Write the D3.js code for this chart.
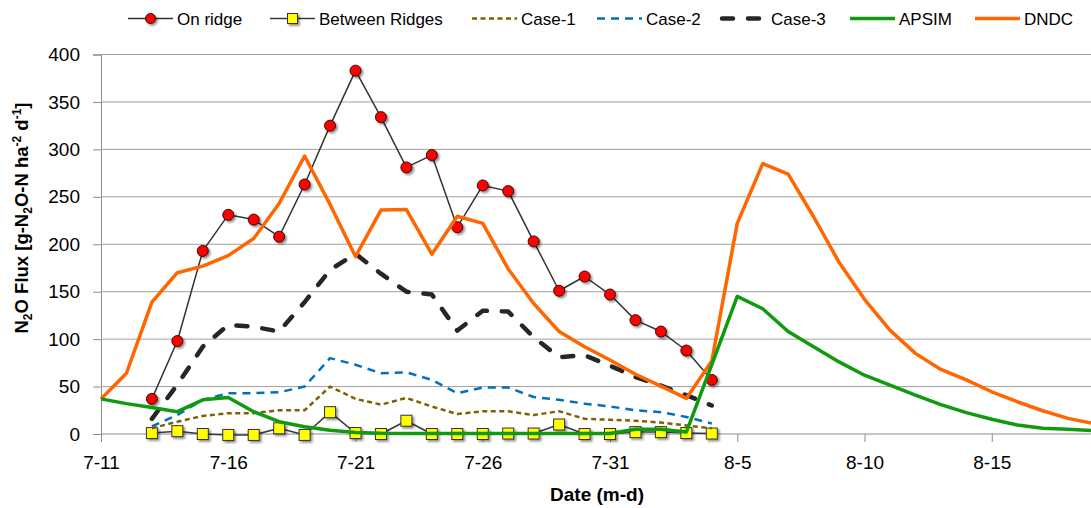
<!DOCTYPE html>
<html>
<head>
<meta charset="utf-8">
<script src="https://cdn.jsdelivr.net/npm/d3@7"></script>
<style>
  html, body { margin: 0; padding: 0; background: #fff; }
  svg { display: block; font-family: "Liberation Sans", Arial, sans-serif; }
</style>
</head>
<body>
<svg id="chart" width="1091" height="508"></svg>
<script>
// Daily dates on the category axis (month-day)
const dates = [
  "7-11","7-12","7-13","7-14","7-15","7-16","7-17","7-18","7-19","7-20",
  "7-21","7-22","7-23","7-24","7-25","7-26","7-27","7-28","7-29","7-30",
  "7-31","8-1","8-2","8-3","8-4","8-5","8-6","8-7","8-8","8-9",
  "8-10","8-11","8-12","8-13","8-14","8-15","8-16","8-17","8-18","8-19"
];
const xTickLabels = ["7-11","7-16","7-21","7-26","7-31","8-5","8-10","8-15"];
const yTicks = [0, 50, 100, 150, 200, 250, 300, 350, 400];

// Measured fluxes, 7-13 to 8-4 (g N2O-N ha-2 d-1)
const onRidge = [null, null,
  37, 98, 193, 231, 226, 208, 263, 325, 383, 334, 281, 294, 218, 262, 256, 203,
  151, 166, 147, 120, 108, 88, 57];
const betweenRidges = [null, null,
  1, 3, 0, -1, -1, 6, -1, 23, 1, 0, 14, 0, 0, 0, 0.5, 0.5,
  10, 0, 0, 2, 2, 1, 0.5];
const case1 = [null, null,
  6, 13, 19, 22, 22, 25, 25, 50, 37, 31, 38, 29, 21, 24, 24, 20,
  24, 16, 15, 14, 12, 9, 6];
const case2 = [null, null,
  8, 20, 36, 43, 43, 44, 50, 80, 73, 64, 65, 57, 43, 49, 49, 39,
  36, 32, 29, 25, 23, 18, 11];
const case3 = [null, null,
  16, 52, 92, 115, 113, 108, 139, 173, 190, 169, 150, 147, 109, 130, 129, 102,
  81, 83, 72, 60, 51, 41, 30];

// Simulated fluxes, 7-11 to 8-19
const apsim = [
  37, 32, 28, 23.5, 36, 38.5, 23.5, 13, 7.7, 4, 1.7, 0.7, 0.5, 0.5, 0.5, 0.5,
  0.5, 0.5, 0.5, 0.5, 0.5, 5, 5, 2, 73, 145, 132, 108, 92, 76, 62, 51.5,
  41, 31, 22.5, 15.5, 9.5, 6, 5, 3.5];
const dndc = [
  37, 64, 139, 170, 177, 188, 206, 243, 293, 242, 187, 236, 236.5, 189.5, 229.5, 222,
  174, 137.5, 108, 92, 78, 63, 50.5, 37.5, 77, 222, 285, 274, 229, 181, 142, 109.5,
  85, 68, 57, 44.5, 34, 24.5, 16.5, 11];

const svg = d3.select("#chart");
const W = 1091, H = 508;
const plot = { left: 101, top: 54.5, bottom: 434, dayWidth: 25.45 };

const x = d3.scalePoint()
  .domain(dates)
  .range([plot.left, plot.left + plot.dayWidth * (dates.length - 1)]);
const y = d3.scaleLinear().domain([0, 400]).range([plot.bottom, plot.top]);

const gridColor = "#a0a0a0";
const axisColor = "#8c8c8c";

// Marker drop shadow
const defs = svg.append("defs");
const f = defs.append("filter").attr("id", "shadow")
  .attr("x", "-50%").attr("y", "-50%").attr("width", "200%").attr("height", "200%");
f.append("feDropShadow").attr("dx", 1.8).attr("dy", 1.8)
  .attr("stdDeviation", 1.2).attr("flood-color", "#000").attr("flood-opacity", 0.45);

// Value axis and horizontal gridlines
const yAxis = d3.axisLeft(y).tickValues(yTicks).tickSize(8).tickPadding(13);
const gy = svg.append("g").attr("transform", `translate(${plot.left},0)`).call(yAxis);
gy.select(".domain").attr("stroke", axisColor);
gy.selectAll(".tick line").attr("stroke", axisColor);
gy.selectAll(".tick text")
  .attr("font-size", 19).attr("fill", "#000")
  .attr("font-family", "'Liberation Sans', Arial, sans-serif");
svg.append("g").selectAll("line.grid")
  .data(yTicks.filter(v => v > 0))
  .join("line")
  .attr("x1", plot.left).attr("x2", W)
  .attr("y1", d => y(d)).attr("y2", d => y(d))
  .attr("stroke", gridColor).attr("stroke-width", 1);

// Category axis with a tick every fifth day
const xAxis = d3.axisBottom(x).tickValues(xTickLabels).tickSize(8).tickPadding(14);
const gx = svg.append("g").attr("transform", `translate(0,${plot.bottom})`).call(xAxis);
gx.select(".domain").attr("d", `M${plot.left},0H${W}`).attr("stroke", axisColor);
gx.selectAll(".tick line").attr("stroke", axisColor);
gx.selectAll(".tick text")
  .attr("font-size", 19).attr("fill", "#000")
  .attr("font-family", "'Liberation Sans', Arial, sans-serif");

// Axis titles
svg.append("text")
  .attr("x", 597).attr("y", 501)
  .attr("text-anchor", "middle")
  .attr("font-weight", "bold").attr("font-size", 19)
  .text("Date (m-d)");

const yt = svg.append("text")
  .attr("transform", "translate(28,218) rotate(-90)")
  .attr("text-anchor", "middle")
  .attr("font-weight", "bold").attr("font-size", 18.5);
const parts = [
  ["N", 0], ["2", 1], ["O Flux  [g-N", 0], ["2", 1], ["O-N ha", 0],
  ["-2", -1], [" d", 0], ["-1", -1], ["]", 0]
];
parts.forEach(([t, s], i) => {
  const prev = i > 0 ? parts[i - 1][1] : 0;
  let dy = 0;
  if (prev === 1) dy -= 4;
  if (prev === -1) dy += 7;
  if (s === 1) dy += 4;
  if (s === -1) dy -= 7;
  const ts = yt.append("tspan").text(t).attr("dy", dy);
  if (s !== 0) ts.attr("font-size", 12);
});

// Line generator that skips days without data
const line = d3.line()
  .defined(d => d.v !== null)
  .x(d => x(d.date))
  .y(d => y(d.v));
const toPts = arr => arr.map((v, i) => ({ date: dates[i], v: v === undefined ? null : v }));

const series = [
  { name: "On ridge", data: onRidge, color: "#333333", width: 1.5, dash: null, cap: "butt", marker: "circle" },
  { name: "Between Ridges", data: betweenRidges, color: "#3a3a3a", width: 1.5, dash: null, cap: "butt", marker: "square" },
  { name: "Case-1", data: case1, color: "#7f6000", width: 2.5, dash: "5,3.5", cap: "butt" },
  { name: "Case-2", data: case2, color: "#0070c0", width: 2.5, dash: "8,6", cap: "butt" },
  { name: "Case-3", data: case3, color: "#262626", width: 4.5, dash: "11,15", cap: "round" },
  { name: "DNDC", data: dndc, color: "#ff6600", width: 3.5, dash: null, cap: "butt" },
  { name: "APSIM", data: apsim, color: "#0f9a0f", width: 3.5, dash: null, cap: "butt" }
];

const marks = svg.append("g");
function drawMarker(g, type, cx, cy, size) {
  if (type === "circle") {
    g.append("circle").attr("cx", cx).attr("cy", cy).attr("r", size / 2)
      .attr("fill", "#ff0000").attr("stroke", "#3a0a0a").attr("stroke-width", 1);
  } else if (type === "square") {
    g.append("rect").attr("x", cx - size / 2).attr("y", cy - size / 2)
      .attr("width", size).attr("height", size)
      .attr("fill", "#ffff00").attr("stroke", "#333").attr("stroke-width", 1);
  }
}

series.forEach(s => {
  const pts = toPts(s.data);
  marks.append("path")
    .attr("d", line(pts))
    .attr("fill", "none")
    .attr("stroke", s.color)
    .attr("stroke-width", s.width)
    .attr("stroke-linejoin", "round")
    .attr("stroke-linecap", s.cap)
    .attr("stroke-dasharray", s.dash);
  if (s.marker) {
    const mg = marks.append("g").attr("filter", "url(#shadow)");
    pts.filter(p => p.v !== null).forEach(p => drawMarker(mg, s.marker, x(p.date), y(p.v), 11));
  }
});

// Legend
const legendOrder = ["On ridge", "Between Ridges", "Case-1", "Case-2", "Case-3", "APSIM", "DNDC"];
const legendX = [128, 270, 472, 597, 722, 850, 975];
const leg = svg.append("g");
legendOrder.forEach((name, i) => {
  const s = series.find(d => d.name === name);
  const x0 = legendX[i], len = 45, ly = 18.5;
  leg.append("line")
    .attr("x1", x0).attr("x2", x0 + len).attr("y1", ly).attr("y2", ly)
    .attr("stroke", s.color).attr("stroke-width", s.width)
    .attr("stroke-linecap", s.cap)
    .attr("stroke-dasharray", s.dash);
  if (s.marker) {
    const mg = leg.append("g").attr("filter", "url(#shadow)");
    drawMarker(mg, s.marker, x0 + len / 2, ly, 10);
  }
  leg.append("text")
    .attr("x", x0 + len + 4).attr("y", 25)
    .attr("font-size", 17).attr("fill", "#000")
    .text(name);
});
</script>
</body>
</html>
